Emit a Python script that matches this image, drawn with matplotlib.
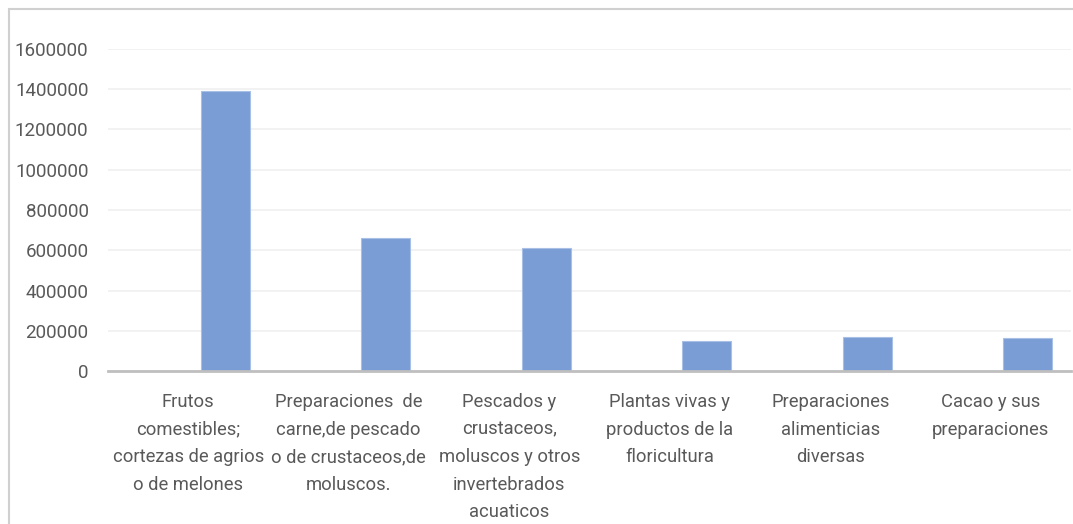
import numpy as np
import matplotlib.pyplot as plt
from matplotlib.patches import Rectangle

categorias = [
    "Frutos\ncomestibles;\ncortezas de agrios\no de melones",
    "Preparaciones  de\ncarne,de pescado\no de crustaceos,de\nmoluscos.",
    "Pescados y\ncrustaceos,\nmoluscos y otros\ninvertebrados\nacuaticos",
    "Plantas vivas y\nproductos de la\nfloricultura",
    "Preparaciones\nalimenticias\ndiversas",
    "Cacao y sus\npreparaciones",
]
valores = [1392000, 662000, 610000, 151000, 169000, 163000]
ticks_y = [0, 200000, 400000, 600000, 800000, 1000000, 1200000, 1400000, 1600000]

plt.rcParams['font.family'] = ['Roboto', 'DejaVu Sans']
gris_texto = '#595959'

fig = plt.figure(figsize=(10.73, 5.24), dpi=100)
ax = fig.add_axes([108/1073, 1-371/524, (1071-108)/1073, (371-49)/524])

x = np.arange(len(categorias))
ax.bar(x + 0.23, valores, width=0.305, color='#7b9dd5', edgecolor='#a8bfe6', linewidth=0.8, zorder=3)

ax.set_xlim(-0.5, len(categorias) - 0.5)
ax.set_ylim(0, 1600000)
ax.set_yticks(ticks_y)
ax.set_yticklabels([str(t) for t in ticks_y], color=gris_texto, fontsize=13.5)
ax.set_xticks(x)
ax.set_xticklabels(categorias, color=gris_texto, fontsize=13.2, linespacing=1.68, va='top')
ax.tick_params(axis='both', length=0)
ax.tick_params(axis='y', pad=14)
ax.tick_params(axis='x', pad=16)

ax.grid(axis='y', color='#f0f0f0', linewidth=1.2, zorder=0)
ax.set_axisbelow(True)
for s in ['top', 'right', 'left']:
    ax.spines[s].set_visible(False)
ax.spines['bottom'].set_color('#bfbfbf')
ax.spines['bottom'].set_linewidth(2)
ax.spines['bottom'].set_zorder(4)

# borde del grafico
fig.patches.append(Rectangle((9/1073, -0.1), 1.2, 1 - 9/524 + 0.1, transform=fig.transFigure,
                             fill=False, edgecolor='#d0d0d0', linewidth=1.5))

fig.savefig('out.png', dpi=100)
